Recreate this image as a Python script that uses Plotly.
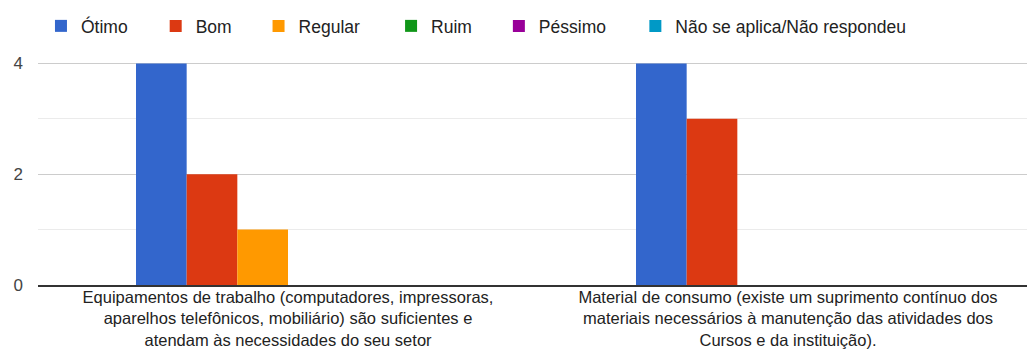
import plotly.graph_objects as go

# Survey question labels (x categories)
categories = [
    "Equipamentos de trabalho (computadores, impressoras,<br>aparelhos telefônicos, mobiliário) são suficientes e<br>atendam às necessidades do seu setor",
    "Material de consumo (existe um suprimento contínuo dos<br>materiais necessários à manutenção das atividades dos<br>Cursos e da instituição).",
]

# Answer options and counts per question
series_names = ["Ótimo", "Bom", "Regular", "Ruim", "Péssimo", "Não se aplica/Não respondeu"]
otimo = [4, 4]
bom = [2, 3]
regular = [1, 0]
ruim = [0, 0]
pessimo = [0, 0]
nao_se_aplica = [0, 0]
series_values = [otimo, bom, regular, ruim, pessimo, nao_se_aplica]

colors = ["#3366cc", "#dc3912", "#ff9900", "#109618", "#990099", "#0099c6"]

y_ticks = [0, 2, 4]

# Horizontal anchor of each legend entry (fraction of the plot width)
legend_x = [0.003, 0.119, 0.223, 0.357, 0.466, 0.604]

x_pos = list(range(len(categories)))
FONT = "Liberation Sans, Arial, sans-serif"

fig = go.Figure()
legend_layouts = {}
for i, (name, vals, col) in enumerate(zip(series_names, series_values, colors)):
    key = "legend" if i == 0 else f"legend{i + 1}"
    fig.add_trace(go.Bar(
        x=x_pos, y=vals, name=name, legend=key, showlegend=True,
        marker=dict(color=col, line=dict(width=0)),
        hoverinfo="y+name",
    ))
    legend_layouts[key] = dict(
        orientation="h", x=legend_x[i], xanchor="left", y=1.0, yanchor="top",
        bgcolor="rgba(0,0,0,0)", font=dict(family=FONT, size=17.5, color="#222222"),
    )

fig.update_layout(
    width=1027, height=352,
    margin=dict(l=38, r=0, t=8, b=67, autoexpand=False),
    showlegend=True,
    paper_bgcolor="white", plot_bgcolor="white",
    barmode="group", bargap=0.392, bargroupgap=0,
    font=dict(family=FONT, size=17, color="#222222"),
    xaxis=dict(
        tickmode="array", tickvals=x_pos, ticktext=categories,
        range=[-0.5, 1.478], showgrid=False, zeroline=False,
        showline=True, linecolor="#333333", linewidth=2,
        ticks="", tickfont=dict(size=16.5, color="#222222"),
        ticklabelstandoff=-4,
        automargin=False, fixedrange=True,
    ),
    yaxis=dict(
        range=[0, 5], tickmode="array", tickvals=y_ticks,
        showgrid=True, gridcolor="#cccccc", gridwidth=1,
        minor=dict(dtick=1, tick0=0, showgrid=True, gridcolor="#ebebeb", gridwidth=1),
        zeroline=False, showline=False, ticks="",
        ticklabelstandoff=14,
        tickfont=dict(size=17, color="#444444"),
        automargin=False, fixedrange=True,
    ),
    **legend_layouts,
)

fig.write_html("out.html")
